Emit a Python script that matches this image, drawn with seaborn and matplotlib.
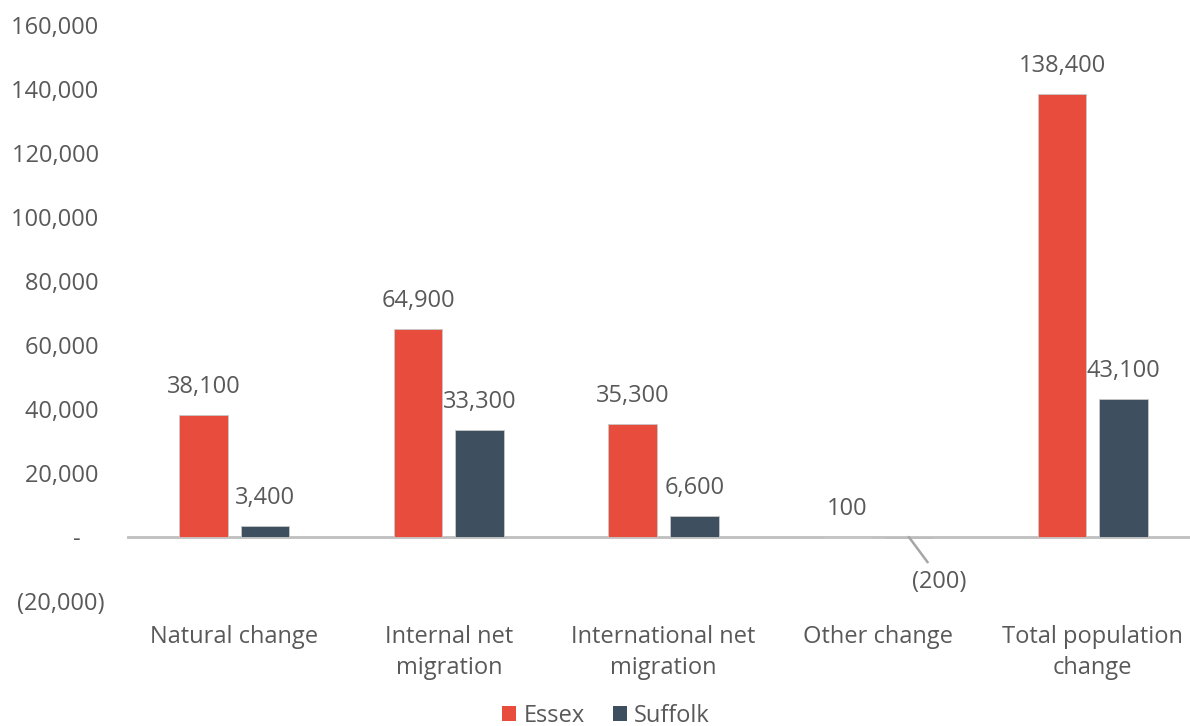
import matplotlib
matplotlib.use("Agg")
import matplotlib.pyplot as plt
from matplotlib.patches import Patch
from matplotlib.ticker import FuncFormatter, MultipleLocator
import pandas as pd
import seaborn as sns

# Components of population change
categories = [
    "Natural change",
    "Internal net\nmigration",
    "International net\nmigration",
    "Other change",
    "Total population\nchange",
]
areas = ["Essex", "Suffolk"]
essex = [38100, 64900, 35300, 100, 138400]
suffolk = [3400, 33300, 6600, -200, 43100]
area_colors = ["#E74C3C", "#3E5060"]

df = pd.DataFrame({
    "component": categories * 2,
    "area": [areas[0]] * len(categories) + [areas[1]] * len(categories),
    "change": essex + suffolk,
})

sns.set_theme(style="white")
plt.rcParams["font.family"] = ["Open Sans", "DejaVu Sans"]
TEXT = "#595959"
AXIS = "#BFBFBF"
FS = 17

fig = plt.figure(figsize=(11.9, 7.26), dpi=100)
ax = fig.add_axes([127 / 1190, 1 - 601 / 726, 1073 / 1190, 576 / 726])

sns.barplot(
    data=df, x="component", y="change", hue="area",
    order=categories, hue_order=areas, palette=area_colors, saturation=1,
    width=0.573, gap=0.21, edgecolor="#C8C8C8", linewidth=0.6,
    legend=False, ax=ax,
)

ax.set_xlim(-0.5, 4.5)
ax.set_ylim(-20000, 160000)
ax.yaxis.set_major_locator(MultipleLocator(20000))


def fmt(v, _=None):
    v = int(round(v))
    if v == 0:
        return "-    "
    if v < 0:
        return f"({abs(v):,})"
    return f"{v:,} "


ax.yaxis.set_major_formatter(FuncFormatter(fmt))
ax.tick_params(axis="y", length=0, pad=16, labelsize=FS, labelcolor=TEXT)
ax.tick_params(axis="x", length=0, pad=17, labelsize=FS, labelcolor=TEXT)
for lbl in ax.get_xticklabels():
    lbl.set_linespacing(1.4)
ax.set_xlabel("")
ax.set_ylabel("")
for s in ax.spines.values():
    s.set_visible(False)
ax.axhline(0, color=AXIS, lw=2, zorder=0)

# Value labels above each bar, negatives with a leader line below the axis
for container, values in zip(ax.containers, [essex, suffolk]):
    for bar, val in zip(container, values):
        xc = bar.get_x() + bar.get_width() / 2
        if val >= 0:
            ax.annotate(fmt(val).strip(), (xc, val), xytext=(0, 28),
                        textcoords="offset pixels", ha="center", va="center",
                        fontsize=FS, color=TEXT)
        else:
            ax.annotate(fmt(val), (xc, 0), xytext=(30, -45),
                        textcoords="offset pixels", ha="center", va="center",
                        fontsize=FS, color=TEXT,
                        arrowprops=dict(arrowstyle="-", color="#A6A6A6", lw=1.8,
                                        relpos=(0.4, 1.0), shrinkA=4, shrinkB=0))

handles = [Patch(facecolor=c, edgecolor="none") for c in area_colors]
fig.legend(handles, areas, loc="center", bbox_to_anchor=(606 / 1190, 1 - 716 / 726),
           ncol=2, frameon=False, fontsize=FS, labelcolor=TEXT,
           handlelength=0.6, handleheight=0.6, handletextpad=0.3, columnspacing=1.2)

fig.savefig("out.png", dpi=100)
